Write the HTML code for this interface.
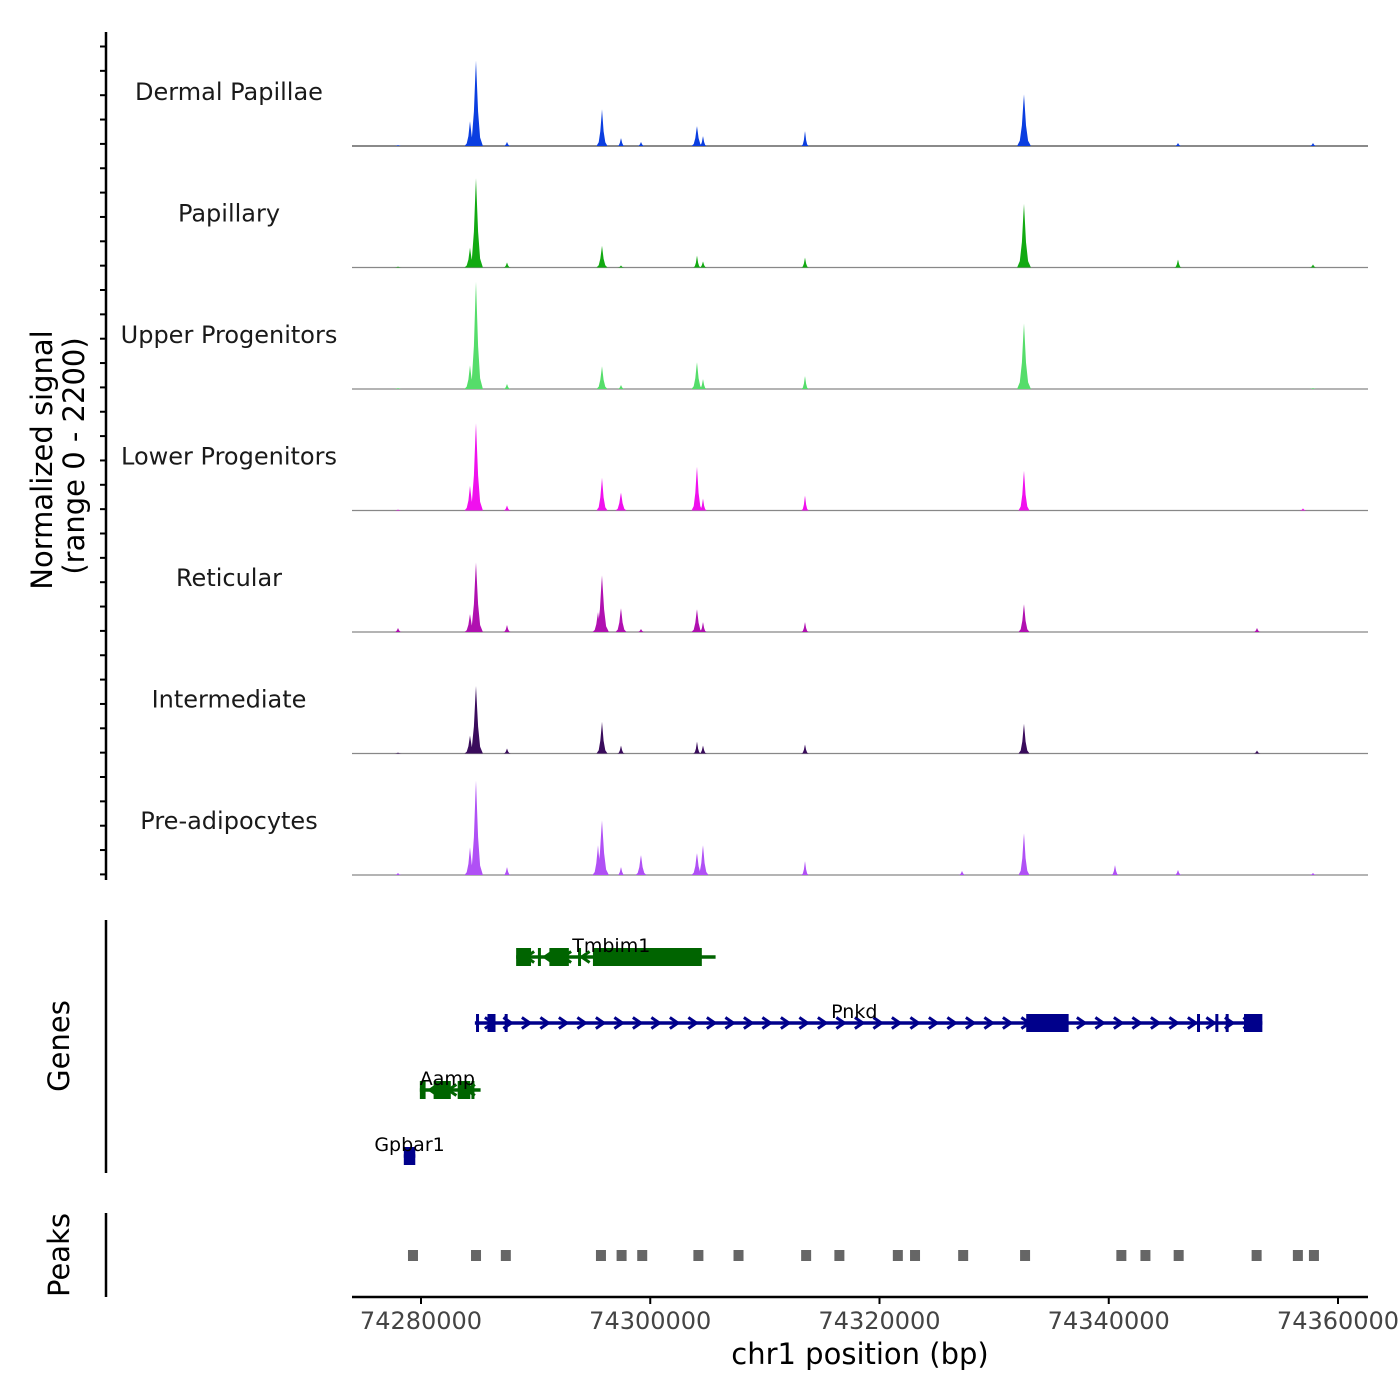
<!DOCTYPE html>
<html><head><meta charset="utf-8"><style>
html,body{margin:0;padding:0;background:#fff;}
svg{display:block;font-family:"DejaVu Sans","Liberation Sans",sans-serif;}
</style></head><body>
<svg id="chart" width="1400" height="1400" viewBox="0 0 1400 1400" xmlns="http://www.w3.org/2000/svg">
<rect width="1400" height="1400" fill="#fff"/>
<g id="yaxis"></g>
<g id="tracks"></g>
<g id="genes"></g>
<g id="peaks"></g>
<g id="xaxis"></g>
<text x="52" y="460" transform="rotate(-90 52 460)" text-anchor="middle" font-size="29" fill="#000">Normalized signal</text>
<text x="84" y="456" transform="rotate(-90 84 456)" text-anchor="middle" font-size="29" fill="#000">(range 0 - 2200)</text>
<text x="69" y="1046" transform="rotate(-90 69 1046)" text-anchor="middle" font-size="29" fill="#000">Genes</text>
<text x="69" y="1255" transform="rotate(-90 69 1255)" text-anchor="middle" font-size="29" fill="#000">Peaks</text>
<text x="860" y="1364" text-anchor="middle" font-size="29" fill="#000">chr1 position (bp)</text>
</svg>
<script>
const trackNames = ["Dermal Papillae","Papillary","Upper Progenitors","Lower Progenitors","Reticular","Intermediate","Pre-adipocytes"];
const trackColors = ["#0b3ee0","#12aa12","#55dd6a","#f010ee","#b010b0","#3a0c5c","#b050f5"];
const peakPositions = [74277994,74284275,74284798,74287502,74295441,74295790,74297447,74299192,74304077,74304601,74313499,74327195,74332604,74340543,74346039,74352930,74356943,74357816];
const dermalPapillae = [19,475,1634,76,0,703,152,76,380,190,285,0,988,0,57,0,0,57];
const papillary = [19,380,1710,95,0,418,38,0,228,114,190,0,1216,0,152,0,0,57];
const upperProgenitors = [19,456,2052,95,0,437,76,0,513,190,247,0,1254,0,0,0,0,19];
const lowerProgenitors = [19,475,1672,95,0,627,342,0,836,228,285,0,760,0,0,0,38,0];
const reticular = [76,342,1330,133,380,1083,456,57,437,190,190,0,532,0,0,76,0,0];
const intermediate = [19,342,1292,95,0,608,152,0,228,152,171,0,570,0,0,57,0,0];
const preAdipocytes = [38,532,1805,152,570,1045,152,380,418,570,266,76,798,190,95,0,0,38];
const xTicks = [74280000,74300000,74320000,74340000,74360000];
const peakRegions = [74279300,74284800,74287400,74295700,74297500,74299300,74304200,74307700,74313600,74316500,74321600,74323100,74327300,74332700,74341100,74343200,74346100,74352900,74356500,74357900];
const genes = [
 {name:"Tmbim1", strand:-1, start:74288300, end:74305700, exons:[[74288300,74289600],[74290200,74290300],[74291200,74292900],[74293700,74293800],[74295000,74304500]], row:0, color:"#006400", labelX:74296600},
 {name:"Pnkd", strand:1, start:74284700, end:74353400, exons:[[74284800,74285000],[74285800,74286500],[74287300,74287400],[74332800,74336500],[74347700,74347900],[74349300,74349400],[74350200,74350400],[74351800,74353400]], row:1, color:"#00008b", labelX:74317800},
 {name:"Aamp", strand:-1, start:74279900, end:74285200, exons:[[74279900,74280400],[74281100,74282600],[74283200,74284300],[74284400,74284500]], row:2, color:"#006400", labelX:74282300},
 {name:"Gpbar1", strand:1, start:74278500, end:74279500, exons:[[74278500,74279500]], row:3, color:"#00008b", labelX:74279000}
];
const allTracks = [dermalPapillae,papillary,upperProgenitors,lowerProgenitors,reticular,intermediate,preAdipocytes];
const NS="http://www.w3.org/2000/svg";
const X0=352, X1=1368;
function xScale(bp){return 421 + (bp-74280000)*(917/80000);}
function mk(tag, attrs, parent){const e=document.createElementNS(NS,tag);for(const k in attrs)e.setAttribute(k,attrs[k]);parent.appendChild(e);return e;}
const tracksG=document.getElementById('tracks');
const base0=146, step=121.5, hpx=115;
function yVal(v,base){return base - v/2200*hpx;}
allTracks.forEach((vals,ti)=>{
  const base=base0+ti*step;
  const g=mk('g',{},tracksG);
  
  
  const lbl=mk('text',{x:229,y:base-46,'text-anchor':'middle','font-size':'24',fill:'#1a1a1a'},g);
  lbl.textContent=trackNames[ti];
  
  
  const ln=mk('line',{x1:X0,x2:X1,y1:base,y2:base,stroke:ti==0?'#444':'#888','stroke-width':1.2},g);
  
  
  const offs=[-1,-0.6,-0.3,-0.08,0,0.08,0.3,0.6,1], fr=[0,0.1,0.4,0.85,1,0.85,0.4,0.1,0];
  vals.forEach((v,i)=>{
    if(v<=0)return;
    const hw = v>900?600:(v>300?480:320);
    let d='';
    offs.forEach((o,k)=>{const x=xScale(peakPositions[i]+o*hw);const y=yVal(v*fr[k],base);d+=(k?'L':'M')+x.toFixed(1)+','+y.toFixed(1);});
    d+='Z';
    const p=mk('path',{d:d,fill:trackColors[ti]},g);
    
    
  });
});
const ya=document.getElementById('yaxis');
mk('line',{x1:106,x2:106,y1:32,y2:880,stroke:'#000','stroke-width':2.5},ya);
for(let y=46.5;y<880;y+=24.35){mk('line',{x1:100,x2:106,y1:y,y2:y,stroke:'#000','stroke-width':2},ya);}
mk('line',{x1:106,x2:106,y1:920,y2:1173,stroke:'#000','stroke-width':2.5},ya);
mk('line',{x1:106,x2:106,y1:1213,y2:1297,stroke:'#000','stroke-width':2.5},ya);
const gg=document.getElementById('genes');
const rowY=[957,1023,1090,1156];
genes.forEach(gn=>{
  const g=mk('g',{},gg);
  
  
  const y=rowY[gn.row];
  const x1=xScale(gn.start), x2=xScale(gn.end);
  mk('line',{x1:x1,x2:x2,y1:y,y2:y,stroke:gn.color,'stroke-width':3.5},g);
  for(let x=x1+14;x<x2-6;x+=18.5){
    const dx=gn.strand*4;
    mk('polyline',{points:`${x-dx},${y-5.5} ${x+dx},${y} ${x-dx},${y+5.5}`,fill:'none',stroke:gn.color,'stroke-width':3},g);
  }
  gn.exons.forEach(ex=>{
    const a=xScale(ex[0]), b=Math.max(xScale(ex[1]),a+3);
    const r=mk('rect',{x:a,y:y-9,width:b-a,height:18,fill:gn.color},g);
    
    
  });
  const t=mk('text',{x:xScale(gn.labelX),y:y-5,'text-anchor':'middle','font-size':'19',fill:'#000'},g);
  t.textContent=gn.name;
  
  
});
const pg=document.getElementById('peaks');
peakRegions.forEach(bp=>{
  const x=xScale(bp);
  const r=mk('rect',{x:x-5,y:1250,width:10,height:11,fill:'#666'},pg);
  
  
});
const xa=document.getElementById('xaxis');
mk('line',{x1:X0,x2:X1,y1:1297,y2:1297,stroke:'#000','stroke-width':2.5},xa);
xTicks.forEach(v=>{
  const x=xScale(v);
  mk('line',{x1:x,x2:x,y1:1297,y2:1304,stroke:'#000','stroke-width':2},xa);
  const t=mk('text',{x:x,y:1329,'text-anchor':'middle','font-size':'24',fill:'#444'},xa);
  t.textContent=v;
  
  
});
</script>
</body></html>
